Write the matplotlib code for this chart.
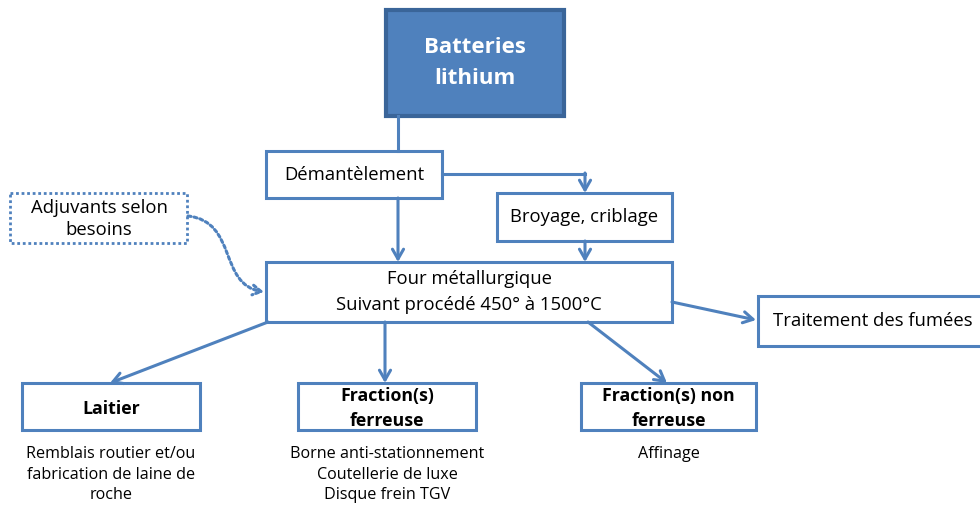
import matplotlib.pyplot as plt
from matplotlib.patches import Rectangle, FancyArrowPatch
from matplotlib.path import Path

plt.rcParams['font.family'] = ['Open Sans', 'DejaVu Sans']

# texts of the diagram
top_label = "Batteries\nlithium"
step_labels = ["Démantèlement", "Broyage, criblage",
               "Four métallurgique\nSuivant procédé 450° à 1500°C",
               "Traitement des fumées"]
side_label = "Adjuvants selon\nbesoins"
output_labels = ["Laitier", "Fraction(s)\nferreuse", "Fraction(s) non\nferreuse"]
output_uses = ["Remblais routier et/ou\nfabrication de laine de\nroche",
               "Borne anti-stationnement\nCoutellerie de luxe\nDisque frein TGV",
               "Affinage"]

blue = '#4F81BD'
dark = '#3A6599'

fig = plt.figure(figsize=(9.8, 5.07), dpi=100)
ax = fig.add_axes([0, 0, 1, 1])
ax.set_xlim(0, 980)
ax.set_ylim(507, 0)
ax.axis('off')


def box(x0, y0, x1, y1, **kw):
    style = dict(facecolor='white', edgecolor=blue, lw=2.2)
    style.update(kw)
    ax.add_patch(Rectangle((x0, y0), x1 - x0, y1 - y0, **style))


def arrow(p0, p1, **kw):
    props = dict(arrowstyle='->,head_length=0.7,head_width=0.4', color=blue,
                 lw=2.2, shrinkA=0, shrinkB=0)
    props.update(kw)
    ax.annotate('', xy=p1, xytext=p0, arrowprops=props)


# top box
box(386, 10, 564, 116, facecolor=blue, edgecolor=dark, lw=3)
ax.text(475, 63, top_label, ha='center', va='center', color='white',
        fontsize=16, fontweight='bold', linespacing=1.65)

# process boxes
step_boxes = [(266, 151, 442, 198), (497, 193, 672, 241),
              (266, 262, 672, 322), (758, 296, 990, 346)]
for (x0, y0, x1, y1), lab in zip(step_boxes, step_labels):
    box(x0, y0, x1, y1)
    cx = (x0 + x1) / 2 if x1 < 980 else 873
    ax.text(cx, (y0 + y1) / 2, lab, ha='center', va='center',
            fontsize=13.3, linespacing=1.55)

# dotted side box
box(10, 193, 187, 243, lw=2, linestyle=(0, (1, 1)))
ax.text(99, 219, side_label, ha='center', va='center', fontsize=13.3,
        linespacing=1.35)

# output boxes
out_boxes = [(22, 383, 200, 430), (298, 383, 476, 430), (581, 383, 756, 430)]
for (x0, y0, x1, y1), lab, use in zip(out_boxes, output_labels, output_uses):
    box(x0, y0, x1, y1)
    cx = (x0 + x1) / 2
    ax.text(cx, (y0 + y1) / 2 + 2, lab, ha='center', va='center',
            fontsize=12.8, fontweight='bold', linespacing=1.5)
    ax.text(cx, 446, use, ha='center', va='top', fontsize=11.6,
            linespacing=1.38)

# connectors
ax.plot([398, 398], [116, 151], color=blue, lw=2.2)
ax.plot([442, 585], [174, 174], color=blue, lw=2.2)
arrow((585, 173), (585, 193))
arrow((398, 198), (398, 262))
arrow((585, 241), (585, 262))
arrow((672, 302), (756, 320))
arrow((268, 322), (110, 383))
arrow((385, 322), (385, 383))
arrow((588, 322), (667, 383))

# dotted curved arrow from the side box
curve = Path([(188, 216), (238, 222), (218, 284), (264, 292)],
             [Path.MOVETO, Path.CURVE4, Path.CURVE4, Path.CURVE4])
ax.add_patch(FancyArrowPatch(path=curve, arrowstyle='->,head_length=6,head_width=3.5',
                             color=blue, lw=2.2, linestyle=(0, (1, 1))))

fig.savefig('out.png', dpi=100)
